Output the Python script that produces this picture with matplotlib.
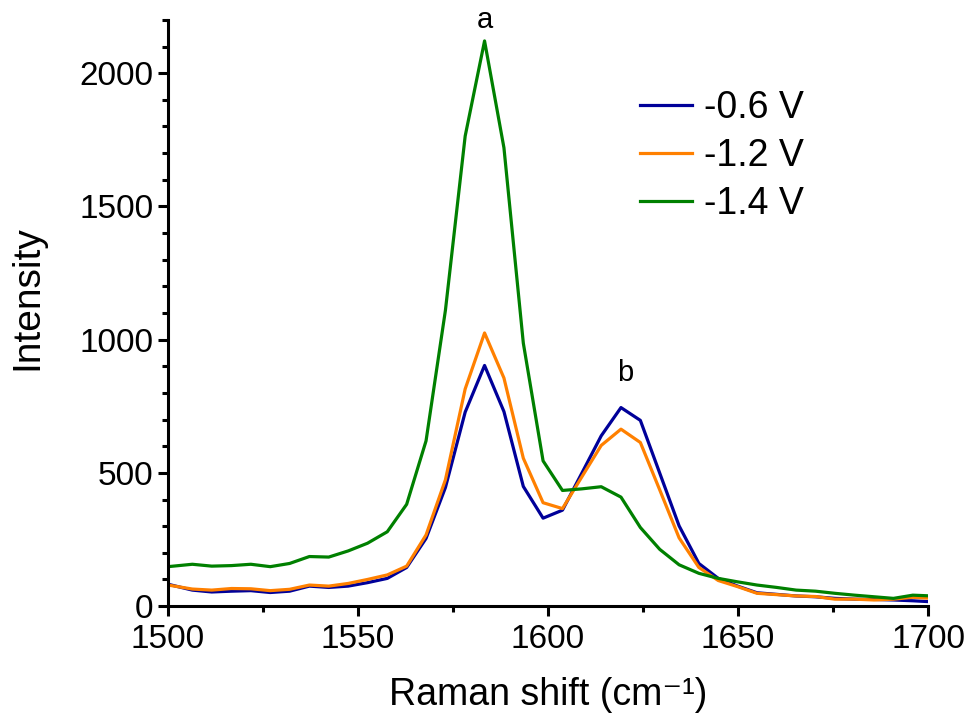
import numpy as np
import matplotlib
matplotlib.use("Agg")
import matplotlib.pyplot as plt
from matplotlib.ticker import MultipleLocator

# ==========================================
# Data
# ==========================================
raman_shift = [1500.0, 1506.4, 1511.5, 1516.7, 1521.8, 1526.9, 1532.0, 1537.2,
               1542.3, 1547.4, 1552.5, 1557.7, 1562.8, 1567.9, 1573.0, 1578.2,
               1583.3, 1588.4, 1593.5, 1598.7, 1603.8, 1608.9, 1614.0, 1619.2,
               1624.3, 1629.4, 1634.5, 1639.7, 1644.8, 1649.9, 1655.0, 1660.2,
               1665.3, 1670.4, 1675.5, 1680.7, 1685.8, 1690.9, 1696.0, 1701.2]

int_06 = [82, 60, 53, 56, 58, 51, 56, 75, 70, 75, 88, 104, 145, 254, 445, 728,
          903, 730, 449, 330, 360, 499, 639, 745, 697, 499, 301, 160, 104, 75,
          50, 44, 38, 35, 29, 26, 25, 23, 20, 16]

int_12 = [79, 64, 60, 66, 65, 58, 63, 79, 75, 85, 100, 117, 150, 267, 474, 815,
          1025, 856, 555, 388, 366, 485, 603, 664, 614, 436, 256, 145, 96, 73,
          48, 43, 38, 36, 26, 26, 23, 26, 33, 29]

int_14 = [148, 157, 150, 152, 157, 148, 160, 186, 184, 207, 236, 279, 382, 620,
          1110, 1764, 2121, 1720, 987, 545, 434, 440, 448, 409, 295, 213, 155,
          123, 104, 91, 79, 70, 60, 56, 48, 41, 35, 29, 41, 38]

labels = ["-0.6 V", "-1.2 V", "-1.4 V"]
colors = ["#000099", "#ff8000", "#008000"]

peak_labels = ["a", "b"]
peak_pos = [(1583.3, 2200), (1620.3, 874)]

# ==========================================
# Plot
# ==========================================
plt.rcParams["font.family"] = ["Liberation Sans", "DejaVu Sans"]

fig = plt.figure(figsize=(9.69, 7.25), dpi=100)
ax = fig.add_axes([0.1734, 0.164, 0.7843, 0.8086])

for y, lab, c in zip([int_06, int_12, int_14], labels, colors):
    ax.plot(raman_shift, y, color=c, lw=2.3, label=lab)

for txt, (px, py) in zip(peak_labels, peak_pos):
    ax.text(px, py, txt, ha="center", va="center", fontsize=21, clip_on=False)

ax.set_xlim(1500, 1700)
ax.set_ylim(0, 2200)
ax.xaxis.set_major_locator(MultipleLocator(50))
ax.xaxis.set_minor_locator(MultipleLocator(25))
ax.yaxis.set_major_locator(MultipleLocator(500))
ax.yaxis.set_minor_locator(MultipleLocator(100))

for side in ["top", "right"]:
    ax.spines[side].set_visible(False)
for side in ["left", "bottom"]:
    ax.spines[side].set_linewidth(2.2)

ax.tick_params(which="major", direction="out", length=7, width=2.2, labelsize=24)
ax.tick_params(axis="x", which="major", pad=6)
ax.tick_params(which="minor", direction="out", length=4, width=2.2)

ax.set_xlabel("Raman shift (cm\u207b\u00b9)", fontsize=27, labelpad=16)
ax.set_ylabel("Intensity", fontsize=28)
ax.yaxis.set_label_coords(-0.162, 0.527)

ax.legend(loc="upper left", bbox_to_anchor=(0.621, 0.881), frameon=False,
          fontsize=27, handlelength=1.4, handletextpad=0.3, labelspacing=0.33,
          borderpad=0, borderaxespad=0)

fig.savefig("out.png", dpi=100)
